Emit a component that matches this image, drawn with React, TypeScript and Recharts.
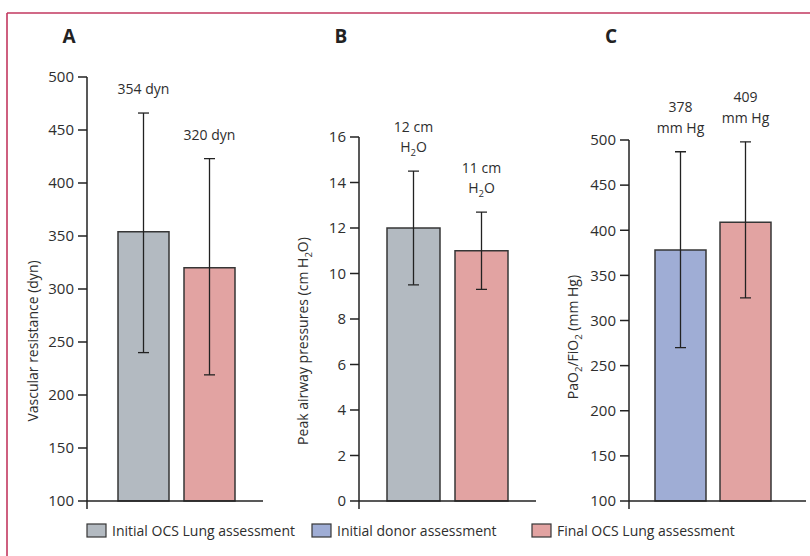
import React from 'react';
import { BarChart, Bar, XAxis, YAxis, ReferenceLine, LabelList } from 'recharts';

const FONT = '"Open Sans", sans-serif';
const GRAY = '#b3bac1';
const PINK = '#e2a3a2';
const BLUE = '#9fadd5';
const INK = '#2e2e2e';
const LINE = '#222222';
const FRAME = '#c2375f';

// Panel A – vascular resistance (dyn)
const vascularMean = [354, 320];
const vascularLow = [240, 219];
const vascularHigh = [466, 423];
const vascularLabels = [['354 dyn'], ['320 dyn']];
const vascularTicks = [100, 150, 200, 250, 300, 350, 400, 450, 500];

// Panel B – peak airway pressures (cm H2O)
const airwayMean = [12, 11];
const airwayLow = [9.5, 9.3];
const airwayHigh = [14.5, 12.7];
const airwayLabels = [['12 cm', 'H2O'], ['11 cm', 'H2O']];
const airwayTicks = [0, 2, 4, 6, 8, 10, 12, 14, 16];

// Panel C – PaO2/FiO2 (mm Hg)
const pfMean = [378, 409];
const pfLow = [270, 325];
const pfHigh = [487, 498];
const pfLabels = [['378', 'mm Hg'], ['409', 'mm Hg']];
const pfTicks = [100, 150, 200, 250, 300, 350, 400, 450, 500];

const legendLabels = ['Initial OCS Lung assessment', 'Initial donor assessment', 'Final OCS Lung assessment'];
const legendColors = [GRAY, BLUE, PINK];

// render digits that follow a letter as subscripts (H2O, PaO2, FiO2)
function chem(str: string, fontSize: number) {
  const parts: React.ReactNode[] = [];
  let sub = false;
  for (let i = 0; i < str.length; i++) {
    const ch = str[i];
    const isSub = /\d/.test(ch) && i > 0 && /[A-Za-z]/.test(str[i - 1]);
    if (isSub) {
      parts.push(<tspan key={i} fontSize={fontSize * 0.68} dy={4}>{ch}</tspan>);
      sub = true;
    } else if (sub) {
      parts.push(<tspan key={i} dy={-4}>{ch}</tspan>);
      sub = false;
    } else {
      parts.push(<tspan key={i}>{ch}</tspan>);
    }
  }
  return parts;
}

const Whisker = (props: any) => {
  const { x, y, width, height } = props;
  const cx = x + width / 2;
  const top = Math.min(y, y + height);
  const bottom = Math.max(y, y + height);
  const cap = 5.5;
  return (
    <g stroke={LINE} strokeWidth={1.3}>
      <line x1={cx} x2={cx} y1={top} y2={bottom} />
      <line x1={cx - cap} x2={cx + cap} y1={top} y2={top} />
      <line x1={cx - cap} x2={cx + cap} y1={bottom} y2={bottom} />
    </g>
  );
};

const ValueLabel = (props: any) => {
  const { x, y, width, height, value } = props;
  const lines: string[] = Array.isArray(value) ? value : [String(value)];
  const cx = x + width / 2;
  const top = Math.min(y, y + height);
  const lastCenter = top - 24;
  const step = 20.5;
  return (
    <g>
      {lines.map((ln, i) => (
        <text
          key={i}
          x={cx}
          y={lastCenter - (lines.length - 1 - i) * step + 5}
          textAnchor="middle"
          fill={INK}
          fontSize={14}
          fontFamily={FONT}
        >
          {chem(ln, 14)}
        </text>
      ))}
    </g>
  );
};

type PanelProps = {
  left: number;
  plotTop: number;
  marginLeft: number;
  marginRight: number;
  means: number[];
  lows: number[];
  highs: number[];
  labels: string[][];
  colors: string[];
  ticks: number[];
  domainMin: number;
  barSize: number;
  barGap: number;
  padding: { left: number; right: number };
};

function Panel(p: PanelProps) {
  const base = p.ticks[0];
  const top = p.ticks[p.ticks.length - 1];
  const row = {
    name: 'x',
    b0: [base, p.means[0]],
    b1: [base, p.means[1]],
    e0: [p.lows[0], p.highs[0]],
    e1: [p.lows[1], p.highs[1]],
    l0: p.labels[0],
    l1: p.labels[1],
  };
  return (
    <div style={{ position: 'absolute', left: p.left, top: 0 }}>
      <BarChart
        width={270}
        height={556}
        data={[row]}
        margin={{ top: p.plotTop, right: p.marginRight, bottom: 47, left: p.marginLeft }}
        barGap={p.barGap}
      >
        <XAxis xAxisId="bars" dataKey="name" hide padding={p.padding} />
        <XAxis xAxisId="err" dataKey="name" hide padding={p.padding} />
        <YAxis
          type="number"
          domain={[p.domainMin, top]}
          allowDataOverflow
          ticks={p.ticks}
          interval={0}
          width={60}
          tickSize={9}
          tickMargin={4}
          axisLine={{ stroke: LINE, strokeWidth: 1.5 }}
          tickLine={{ stroke: LINE, strokeWidth: 1.5 }}
          tick={{ fill: INK, fontSize: 15, fontFamily: FONT }}
        />
        <Bar xAxisId="bars" dataKey="b0" fill={p.colors[0]} stroke="#363636" strokeWidth={1.5} barSize={p.barSize} isAnimationActive={false} />
        <Bar xAxisId="bars" dataKey="b1" fill={p.colors[1]} stroke="#363636" strokeWidth={1.5} barSize={p.barSize} isAnimationActive={false} />
        <ReferenceLine xAxisId="bars" y={base} stroke={LINE} strokeWidth={1.5} />
        <Bar xAxisId="err" dataKey="e0" shape={<Whisker />} barSize={p.barSize} isAnimationActive={false}>
          <LabelList dataKey="l0" content={<ValueLabel />} />
        </Bar>
        <Bar xAxisId="err" dataKey="e1" shape={<Whisker />} barSize={p.barSize} isAnimationActive={false}>
          <LabelList dataKey="l1" content={<ValueLabel />} />
        </Bar>
      </BarChart>
    </div>
  );
}

export default function App() {
  const legendX = [87, 312, 532];
  return (
    <div style={{ position: 'absolute', left: 0, top: 0, width: 810, height: 556, background: '#fff', fontFamily: FONT }}>
      <Panel
        left={0}
        plotTop={77}
        marginLeft={27}
        marginRight={7}
        means={vascularMean}
        lows={vascularLow}
        highs={vascularHigh}
        labels={vascularLabels}
        colors={[GRAY, PINK]}
        ticks={vascularTicks}
        domainMin={92.45}
        barSize={51}
        barGap={15}
        padding={{ left: 3, right: 0 }}
      />
      <Panel
        left={270}
        plotTop={137}
        marginLeft={29}
        marginRight={4}
        means={airwayMean}
        lows={airwayLow}
        highs={airwayHigh}
        labels={airwayLabels}
        colors={[GRAY, PINK]}
        ticks={airwayTicks}
        domainMin={-0.352}
        barSize={53}
        barGap={15}
        padding={{ left: 0, right: 0 }}
      />
      <Panel
        left={540}
        plotTop={140}
        marginLeft={29}
        marginRight={4}
        means={pfMean}
        lows={pfLow}
        highs={pfHigh}
        labels={pfLabels}
        colors={[BLUE, PINK]}
        ticks={pfTicks}
        domainMin={91.14}
        barSize={51}
        barGap={14}
        padding={{ left: 0, right: 9 }}
      />
      <svg width={810} height={556} style={{ position: 'absolute', left: 0, top: 0, pointerEvents: 'none' }}>
        <line x1={7} x2={810} y1={13} y2={13} stroke={FRAME} strokeWidth={1.6} />
        <line x1={7} x2={7} y1={13} y2={556} stroke={FRAME} strokeWidth={1.6} />
        {[['A', 69], ['B', 341], ['C', 611]].map(([t, x]) => (
          <text key={t as string} x={x as number} y={43} textAnchor="middle" fontSize={19} fontWeight="bold" fill={LINE} fontFamily={FONT}>
            {t}
          </text>
        ))}
        <text transform="translate(38,341) rotate(-90)" textAnchor="middle" fontSize={14} fill={INK} fontFamily={FONT}>
          Vascular resistance (dyn)
        </text>
        <text transform="translate(308,341) rotate(-90)" textAnchor="middle" fontSize={14} fill={INK} fontFamily={FONT}>
          {chem('Peak airway pressures (cm H2O)', 14)}
        </text>
        <text transform="translate(578,337) rotate(-90)" textAnchor="middle" fontSize={14} fill={INK} fontFamily={FONT}>
          {chem('PaO2/FiO2 (mm Hg)', 14)}
        </text>
        {legendLabels.map((lab, i) => (
          <g key={lab}>
            <rect x={legendX[i]} y={524} width={19} height={13} fill={legendColors[i]} stroke="#363636" strokeWidth={1.2} />
            <text x={legendX[i] + 25} y={536} fontSize={14} fill={INK} fontFamily={FONT}>
              {lab}
            </text>
          </g>
        ))}
      </svg>
    </div>
  );
}
